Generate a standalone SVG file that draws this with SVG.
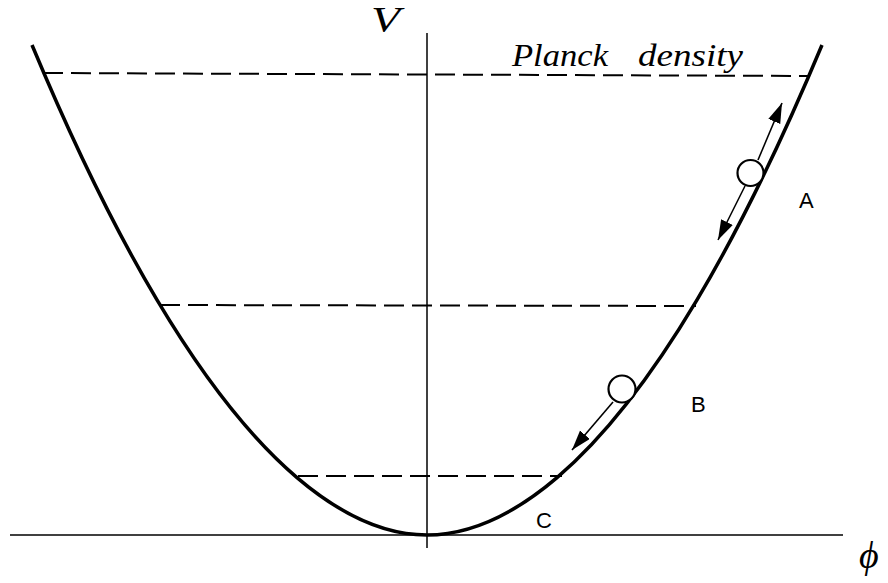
<svg xmlns="http://www.w3.org/2000/svg" width="888" height="583" viewBox="0 0 888 583">
<style>
.axis{stroke:#000;stroke-width:1.5;fill:none}
.curve{stroke:#000;stroke-width:3.5;fill:none}
.dash{stroke:#000;stroke-width:2;stroke-dasharray:20 8;fill:none}
.arr{stroke:#000;stroke-width:1.6;fill:none;marker-end:url(#ah)}
.ball{stroke:#000;stroke-width:2.2;fill:#fff}
.lbl{font-family:"Liberation Sans",Arial,sans-serif;font-size:22px;fill:#000}
.math{font-family:"Liberation Serif","Times New Roman",serif;font-style:italic;fill:#000}
</style>
<defs>
<marker id="ah" markerUnits="userSpaceOnUse" markerWidth="22" markerHeight="14" refX="20" refY="6.5" orient="auto">
<path d="M0,0 L20,6.5 L0,13 Z" fill="#000"/>
</marker>
</defs>
<g id="axes">
<line class="axis" x1="10" y1="535" x2="843" y2="535"/>
<line class="axis" x1="427" y1="33" x2="427" y2="548"/>
</g>
<g id="potential">
<path class="curve" d="M32,45 Q94.9,195.6 157,299.9 Q227.6,418.5 297,477.6 Q364.4,535 427,535 Q489.6,535 557,477.6 Q626.4,418.5 697,299.9 Q759.1,195.6 822,45"/>
</g>
<g id="levels">
<line class="dash" x1="43" y1="73" x2="808" y2="76"/>
<line class="dash" x1="160" y1="305" x2="696" y2="306"/>
<line class="dash" x1="298" y1="476" x2="562" y2="476"/>
</g>
<g id="connectors">
<line class="arr" x1="758" y1="160" x2="782" y2="103"/>
<line class="arr" x1="745" y1="186" x2="718" y2="240"/>
<line class="arr" x1="613" y1="402" x2="572" y2="450"/>
</g>
<g id="ballA"><circle class="ball" cx="750.5" cy="173" r="13"/></g>
<g id="ballB"><circle class="ball" cx="622" cy="389" r="13.5"/></g>
<g id="labels">
<text class="lbl" x="799" y="208">A</text>
<text class="lbl" x="691" y="412">B</text>
<text class="lbl" x="536" y="528">C</text>
<text class="math" x="371" y="32" font-size="36" textLength="29" lengthAdjust="spacingAndGlyphs">V</text>
<text class="math" x="512" y="66" font-size="31" textLength="96" lengthAdjust="spacingAndGlyphs">Planck</text>
<text class="math" x="638" y="66" font-size="31" textLength="105" lengthAdjust="spacingAndGlyphs">density</text>
<text class="math" x="859" y="568" font-size="38">ϕ</text>
</g>
</svg>
